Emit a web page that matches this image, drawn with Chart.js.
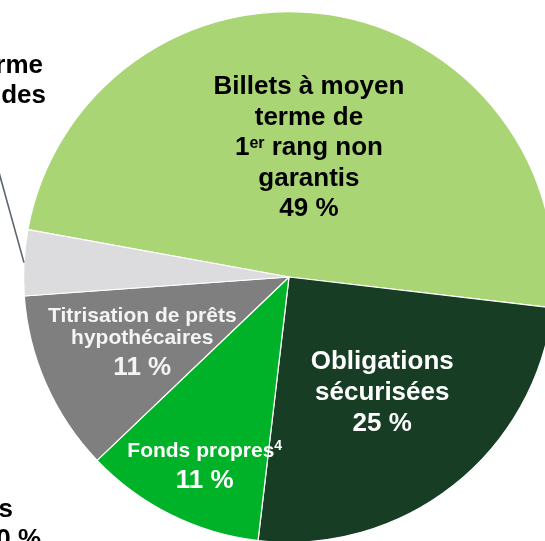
<!DOCTYPE html>
<html>
<head>
<meta charset="utf-8">
<script src="https://cdn.jsdelivr.net/npm/chart.js@4.4.1/dist/chart.umd.min.js"></script>
<style>
    html, body { margin: 0; padding: 0; background: #fff; overflow: hidden; }
    #wrap { position: relative; width: 545px; height: 541px; overflow: hidden; }
    #chart-canvas { position: absolute; left: 0; top: 0; }
</style>
</head>
<body>
<div id="wrap"><canvas id="chart-canvas" width="578" height="554"></canvas></div>
<script>
// slices, clockwise from the upper left
const categories = [
    "Billets à moyen terme de 1er rang non garantis",
    "Obligations sécurisées",
    "Fonds propres",
    "Titrisation de prêts hypothécaires",
    "Autres"
];
const shares = [49, 25, 11, 11, 4];
const shareLabels = ["49 %", "25 %", "11 %", "11 %", "4 %"];
const sliceColors = ["#aad575", "#173d24", "#00b227", "#7f7f7f", "#dcdbde"];

const FONT = "Arial, 'Liberation Sans', sans-serif";

// text blocks inside slices: polar anchor (fraction of radius, angle tweak) and lines
const inside = [
    { f: 0.465, da: 0.8, color: "#000", lines: [
        { dy: -61, size: 26, parts: [["Billets à moyen"]] },
        { dy: -30.5, size: 26, parts: [["terme de"]] },
        { dy: 0, size: 26, parts: [["1"], ["er", 16, -7], [" rang non"]] },
        { dy: 30.5, size: 26, parts: [["garantis"]] },
        { dy: 61, size: 26, parts: [[shareLabels[0]]] }
    ]},
    { f: 0.581, da: 1.1, color: "#fff", lines: [
        { dy: -31, size: 26, parts: [["Obligations"]] },
        { dy: 0, size: 26, parts: [["sécurisées"]] },
        { dy: 31, size: 26, parts: [[shareLabels[1]]] }
    ]},
    { f: 0.803, da: -3.2, color: "#fff", lines: [
        { dy: -16, size: 21, parts: [["Fonds propres"], ["4", 14, -7]] },
        { dy: 15, size: 26, parts: [[shareLabels[2]]] }
    ]},
    { f: 0.608, da: -0.7, color: "#f4f4f4", lines: [
        { dy: -22.5, size: 21, parts: [["Titrisation de prêts"]] },
        { dy: 0, size: 21, parts: [["hypothécaires"]] },
        { dy: 30.5, size: 26, parts: [[shareLabels[3]]] }
    ]}
];

function drawLine(ctx, x, y, line) {
    let total = 0;
    const widths = line.parts.map(function(p) {
        ctx.font = "bold " + (p[1] || line.size) + "px " + FONT;
        const w = ctx.measureText(p[0]).width;
        total += w;
        return w;
    });
    let cx = x - total / 2;
    line.parts.forEach(function(p, i) {
        ctx.font = "bold " + (p[1] || line.size) + "px " + FONT;
        ctx.fillText(p[0], cx, y + (p[2] || 0));
        cx += widths[i];
    });
}

const labelPlugin = {
    id: "sliceLabels",
    afterDatasetsDraw: function(chart) {
        const ctx = chart.ctx;
        const arcs = chart.getDatasetMeta(0).data;
        ctx.save();
        ctx.textAlign = "left";
        ctx.textBaseline = "alphabetic";
        inside.forEach(function(lab, i) {
            const arc = arcs[i];
            const mid = (arc.startAngle + arc.endAngle) / 2 + lab.da * Math.PI / 180;
            const r = arc.outerRadius * lab.f;
            const x = arc.x + Math.cos(mid) * r;
            const y = arc.y + Math.sin(mid) * r;
            ctx.fillStyle = lab.color;
            lab.lines.forEach(function(line) { drawLine(ctx, x, y + line.dy, line); });
        });

        // leader line for the small slice, label runs off the left edge
        const small = arcs[4];
        const a = (small.startAngle + small.endAngle) / 2;
        const sx = small.x + Math.cos(a) * small.outerRadius;
        const sy = small.y + Math.sin(a) * small.outerRadius;
        ctx.strokeStyle = "#5b6470";
        ctx.lineWidth = 1.6;
        ctx.beginPath();
        ctx.moveTo(sx, sy);
        ctx.lineTo(sx - 23 * 1.4, sy - 83 * 1.4);
        ctx.stroke();

        ctx.fillStyle = "#000";
        ctx.font = "bold 26px " + FONT;
        ctx.textAlign = "right";
        ctx.fillText("Autres à court terme", 43, 73);
        ctx.fillText("et dépôts des", 46, 103);
        ctx.fillText("Autres", 13, 517);
        ctx.fillText("0 %", 41, 547);
        ctx.restore();
    }
};

const canvas = document.getElementById("chart-canvas");
new Chart(canvas, {
    type: "pie",
    data: {
        labels: categories,
        datasets: [{
            data: shares,
            backgroundColor: sliceColors,
            borderColor: "#ffffff",
            borderWidth: 1.2
        }]
    },
    options: {
        responsive: false,
        animation: false,
        rotation: -79.7,
        layout: { padding: { left: 23, right: 23, top: 11, bottom: 11 } },
        plugins: {
            legend: { display: false },
            tooltip: { enabled: false }
        }
    },
    plugins: [labelPlugin]
});
</script>
</body>
</html>
